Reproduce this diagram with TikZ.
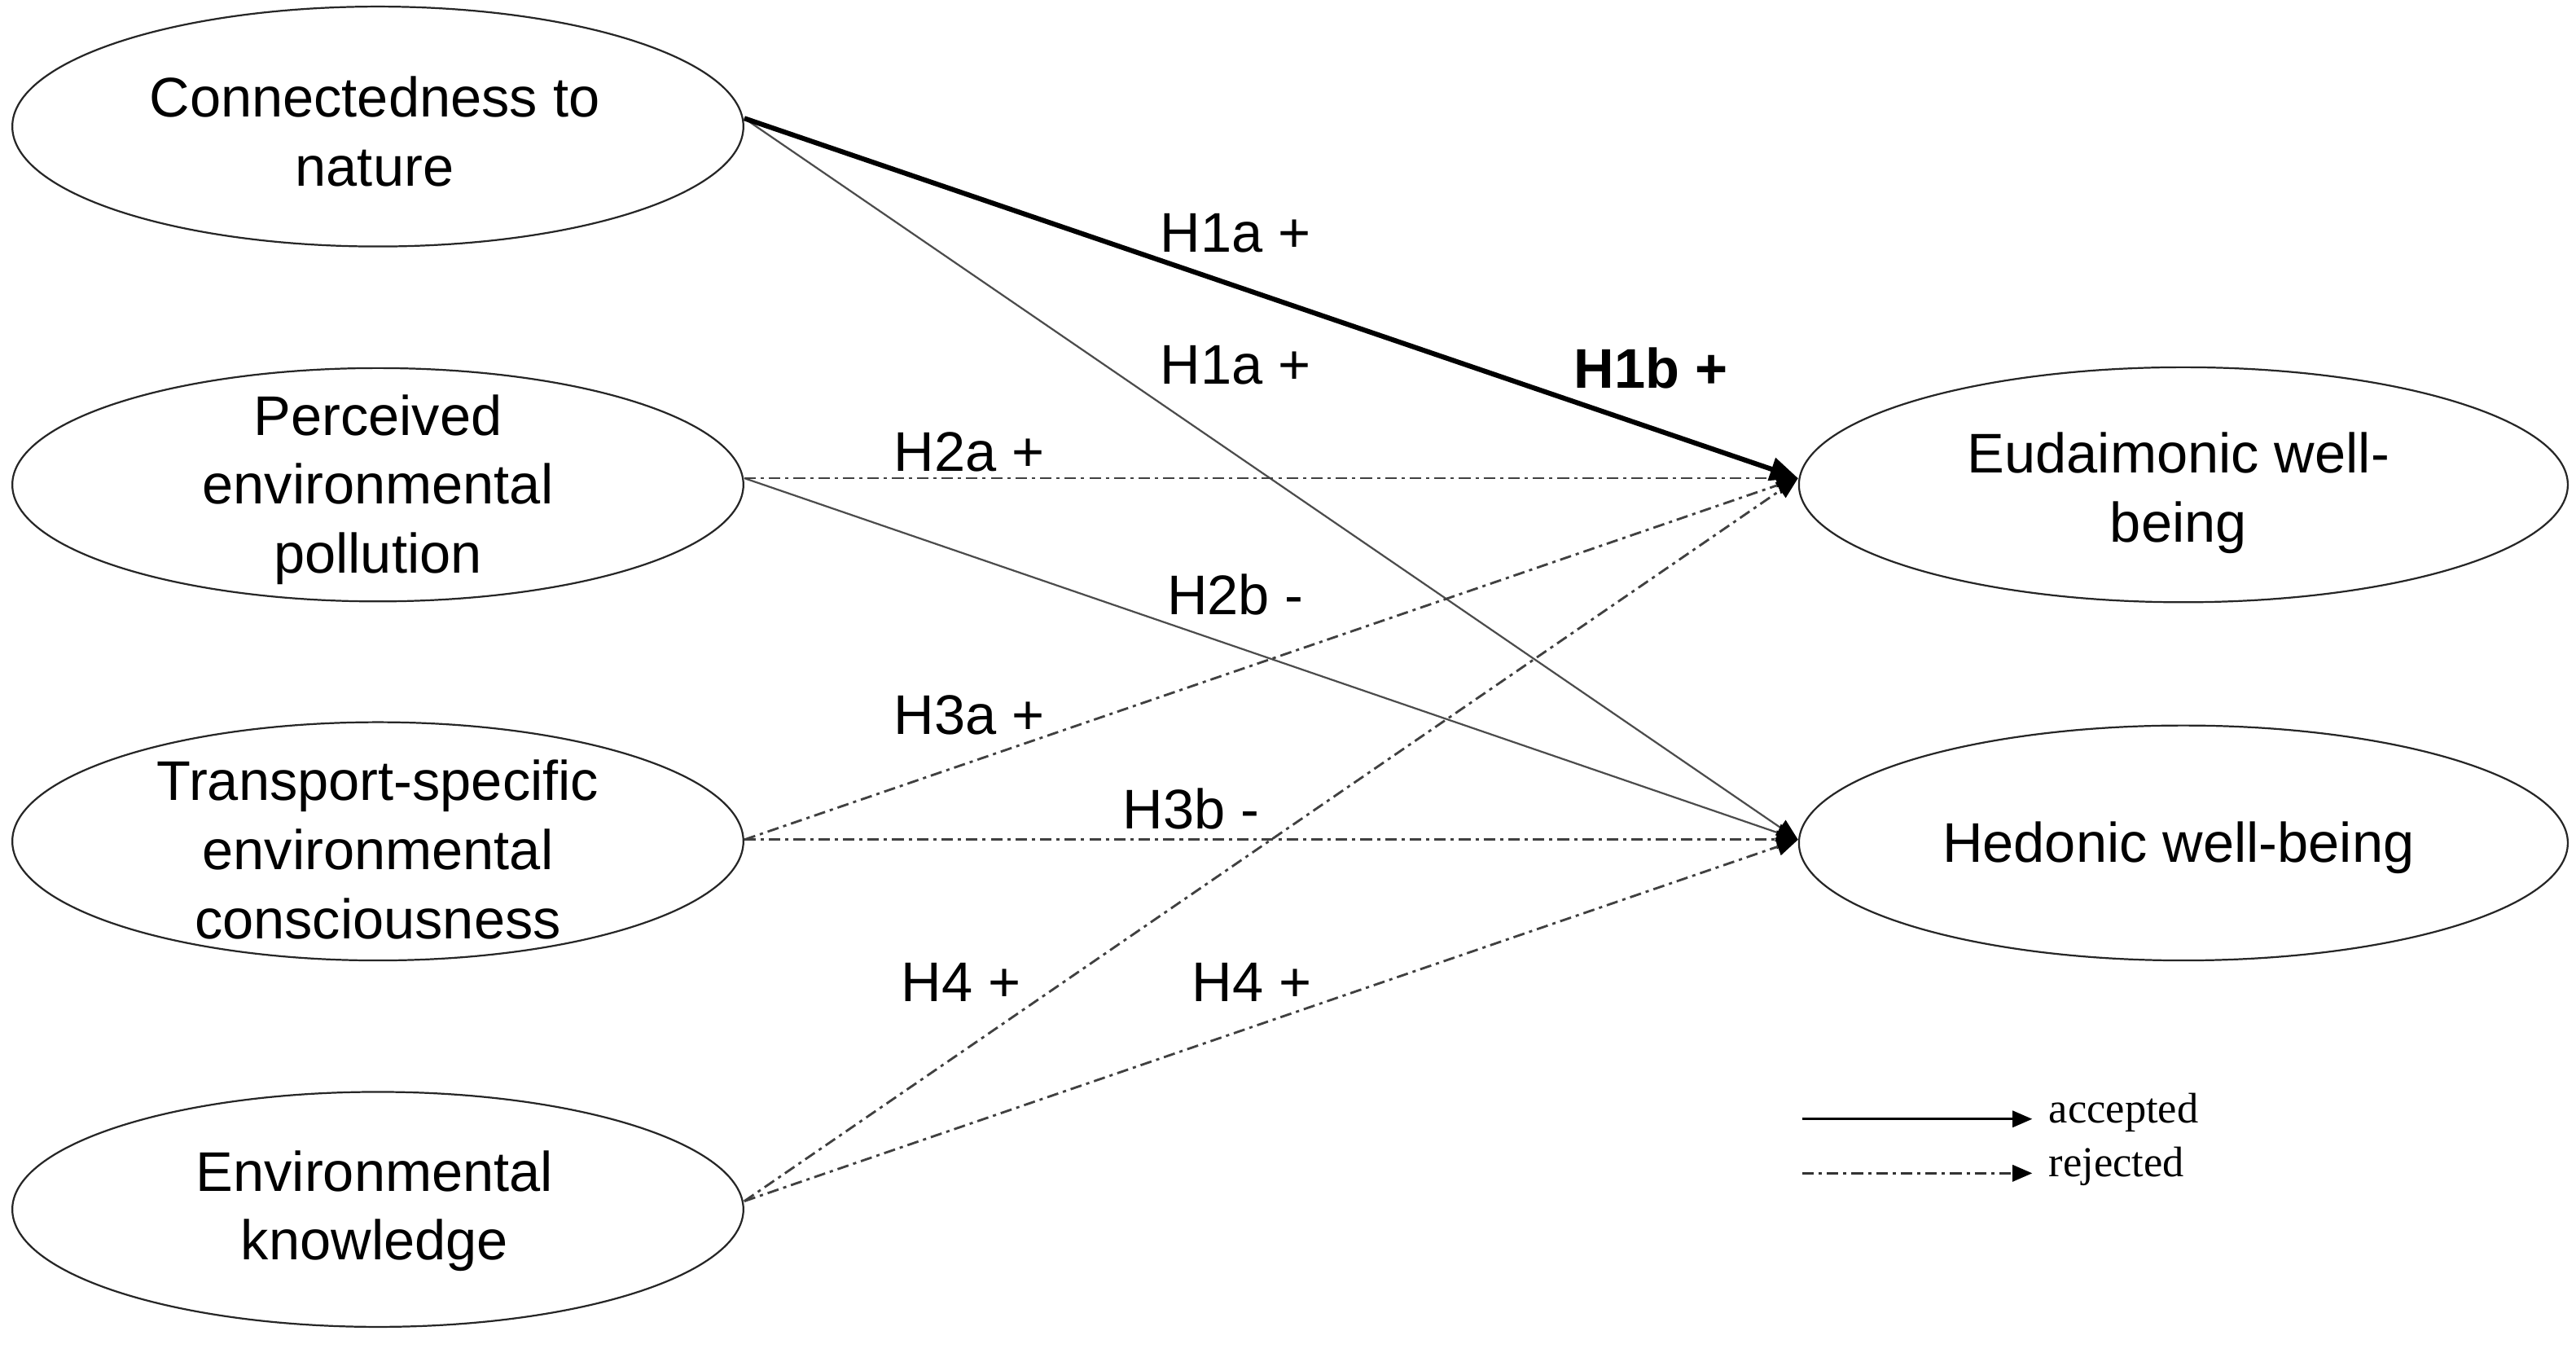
\documentclass[tikz,border=0pt]{standalone}
\usepackage{fontspec}
\setmainfont{Liberation Sans}
\newfontfamily\legendfont{Liberation Serif}
\usetikzlibrary{shapes.geometric,arrows.meta}
\tikzset{
  construct/.style={ellipse, draw=black!85, line width=1.1pt, inner sep=0pt},
  ctext/.style={align=center, font=\fontsize{34}{42}\selectfont, inner sep=0pt},
  hlabel/.style={font=\fontsize{34}{40}\selectfont, inner sep=0pt},
  accthick/.style={line width=3pt, black, -{Triangle[length=17pt,width=14pt]}},
  accthin/.style={line width=1.1pt, black!70, -{Triangle[length=13pt,width=11pt,color=black]}},
  rejline/.style={line width=1.4pt, black!75, dash pattern=on 7pt off 3pt on 2pt off 3pt, -{Triangle[length=13pt,width=11pt,color=black]}},
  legtext/.style={font=\legendfont\fontsize{26}{30}\selectfont, anchor=west, inner sep=0pt},
}
\begin{document}
\begin{tikzpicture}[x=1pt,y=-1pt]
\useasboundingbox[fill=white] (0,0) rectangle (1568,823);

% constructs
\node[construct, minimum width=445pt, minimum height=146pt] (c) at (230,77) {};
\node[construct, minimum width=445pt, minimum height=142pt] (p) at (230,295) {};
\node[construct, minimum width=445pt, minimum height=145pt] (t) at (230,512) {};
\node[construct, minimum width=445pt, minimum height=143pt] (k) at (230,736) {};
\node[construct, minimum width=468pt, minimum height=143pt] (e) at (1329,295) {};
\node[construct, minimum width=468pt, minimum height=143pt] (h) at (1329,513) {};

\node[ctext] (ct) at (228,80) {Connectedness to\\nature};
\node[ctext] (pt) at (230,298) {Perceived\\environmental\\pollution};
\node[ctext] (tt) at (230,517) {Transport-specific\\environmental\\consciousness};
\node[ctext] (kt) at (228,737) {Environmental\\knowledge};
\node[ctext] (et) at (1326,300) {Eudaimonic well-\\being};
\node[ctext] (ht) at (1326,516) {Hedonic well-being};

% connection points
\coordinate (cs) at ([yshift=5pt]c.east);
\coordinate (ps) at ([yshift=4pt]p.east);
\coordinate (ts) at ([yshift=1pt]t.east);
\coordinate (ks) at ([yshift=5pt]k.east);
\coordinate (ee) at ([yshift=4pt]e.west);
\coordinate (he) at ([yshift=2pt]h.west);

% paths
\draw[accthin] (cs) -- (he);
\draw[accthin] (ps) -- (he);
\draw[rejline] (ps) -- (ee);
\draw[rejline] (ts) -- (ee);
\draw[rejline] (ts) -- (he);
\draw[rejline] (ks) -- (ee);
\draw[rejline] (ks) -- (he);
\draw[accthick] (cs) -- (ee);

% labels
\node[hlabel] (l1) at (752,142) {H1a +};
\node[hlabel] (l2) at (752,222) {H1a +};
\node[hlabel, font=\bfseries\fontsize{34}{40}\selectfont] (l3) at (1005,224) {H1b +};
\node[hlabel] (l4) at (590,275) {H2a +};
\node[hlabel] (l5) at (752,362) {H2b -};
\node[hlabel] (l6) at (590,435) {H3a +};
\node[hlabel] (l7) at (725,492) {H3b -};
\node[hlabel] (l8) at (585,598) {H4 +};
\node[hlabel] (l9) at (762,598) {H4 +};

% legend
\coordinate (a1) at (1097,681);
\coordinate (a2) at (1237,681);
\coordinate (r1) at (1097,714);
\coordinate (r2) at (1237,714);
\draw[line width=1.4pt, black, -{Triangle[length=12pt,width=10pt]}] (a1) -- (a2);
\draw[line width=1.4pt, black!80, dash pattern=on 7pt off 3pt on 2pt off 3pt, -{Triangle[length=12pt,width=10pt,color=black]}] (r1) -- (r2);
\node[legtext] (acc) at (1247,677) {accepted};
\node[legtext] (rej) at (1247,710) {rejected};
\end{tikzpicture}
\end{document}
